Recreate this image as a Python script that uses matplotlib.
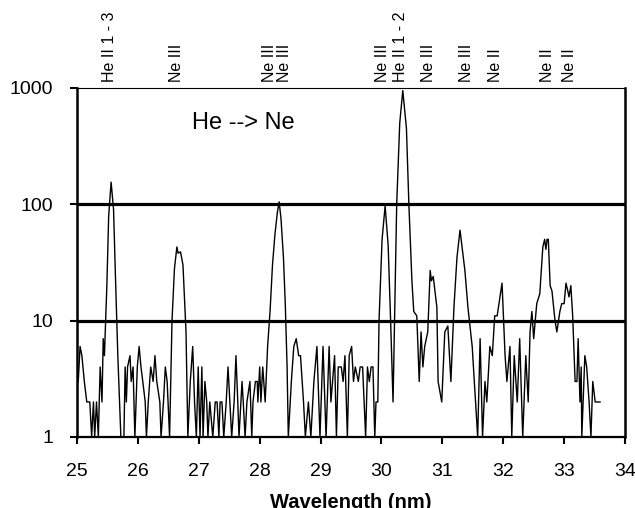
import matplotlib
matplotlib.use("Agg")
import matplotlib.pyplot as plt
import matplotlib.transforms as mtransforms
from matplotlib.ticker import NullLocator, FixedLocator, FixedFormatter

plt.rcParams['font.family'] = ['Liberation Sans', 'DejaVu Sans']

# spectrum (wavelength in nm, counts)
wavelength = [
    25.02, 25.05, 25.08, 25.12, 25.16, 25.21, 25.24, 25.27, 25.29, 25.32,
    25.35, 25.38, 25.41, 25.43, 25.45, 25.49, 25.52, 25.56, 25.60, 25.63,
    25.67, 25.72, 25.77, 25.79, 25.81, 25.83, 25.87, 25.89, 25.92, 25.95,
    25.99, 26.02, 26.05, 26.08, 26.12, 26.14, 26.17, 26.21, 26.25, 26.28,
    26.31, 26.36, 26.38, 26.42, 26.45, 26.48, 26.52, 26.56, 26.60, 26.64,
    26.66, 26.70, 26.74, 26.76, 26.79, 26.82, 26.86, 26.90, 26.93, 26.96,
    26.99, 27.02, 27.05, 27.07, 27.10, 27.13, 27.15, 27.18, 27.23, 27.27,
    27.30, 27.33, 27.35, 27.38, 27.41, 27.45, 27.48, 27.51, 27.54, 27.58,
    27.61, 27.64, 27.66, 27.71, 27.73, 27.76, 27.79, 27.84, 27.87, 27.89,
    27.93, 27.96, 27.97, 28.00, 28.02, 28.05, 28.09, 28.13, 28.17, 28.21,
    28.25, 28.29, 28.32, 28.35, 28.39, 28.42, 28.45, 28.47, 28.52, 28.56,
    28.60, 28.64, 28.67, 28.72, 28.75, 28.80, 28.84, 28.89, 28.94, 28.99,
    29.04, 29.09, 29.14, 29.17, 29.23, 29.26, 29.29, 29.34, 29.37, 29.40,
    29.44, 29.47, 29.51, 29.54, 29.57, 29.62, 29.65, 29.69, 29.74, 29.77,
    29.80, 29.83, 29.86, 29.89, 29.91, 29.94, 29.96, 30.01, 30.06, 30.11,
    30.15, 30.19, 30.22, 30.25, 30.30, 30.35, 30.41, 30.45, 30.48, 30.50,
    30.53, 30.58, 30.62, 30.65, 30.68, 30.71, 30.76, 30.80, 30.82, 30.85,
    30.91, 30.93, 30.99, 31.04, 31.09, 31.14, 31.19, 31.24, 31.29, 31.33,
    31.37, 31.42, 31.49, 31.58, 31.62, 31.66, 31.70, 31.73, 31.78, 31.82,
    31.86, 31.90, 31.98, 32.03, 32.06, 32.11, 32.14, 32.18, 32.23, 32.27,
    32.32, 32.37, 32.41, 32.44, 32.47, 32.50, 32.55, 32.60, 32.65, 32.68,
    32.70, 32.72, 32.74, 32.77, 32.80, 32.85, 32.88, 32.93, 32.96, 33.00,
    33.03, 33.06, 33.08, 33.11, 33.14, 33.18, 33.21, 33.23, 33.26, 33.28,
    33.29, 33.34, 33.37, 33.41, 33.44, 33.47, 33.51, 33.59,
]
counts = [
    3, 6, 5, 3, 2, 2, 1, 2, 1, 2,
    1, 4, 2, 7, 5, 20, 80, 155, 90, 25,
    5, 1, 1, 4, 2, 4, 5, 3, 4, 1,
    4, 6, 4, 3, 2, 1, 2, 4, 3, 5,
    3, 2, 1, 2, 4, 3, 1, 10, 28, 43,
    38, 39, 30, 18, 8, 1, 3, 6, 2, 1,
    4, 1, 4, 1, 3, 2, 1, 2, 1, 2,
    2, 1, 2, 2, 1, 2, 4, 2, 1, 2,
    5, 2, 1, 3, 2, 1, 2, 3, 1, 2,
    3, 3, 2, 4, 2, 4, 2, 6, 12, 30,
    55, 85, 105, 75, 35, 14, 4, 1, 3, 6,
    7, 5, 5, 2, 1, 2, 1, 3, 6, 1,
    6, 1, 6, 2, 5, 1, 4, 4, 3, 5,
    1, 5, 6, 3, 4, 3, 4, 4, 1, 4,
    3, 4, 4, 1, 2, 2, 10, 50, 97, 44,
    10, 2, 15, 100, 500, 950, 450, 100, 40, 22,
    12, 11, 3, 8, 4, 6, 8, 27, 22, 24,
    13, 3, 2, 8, 9, 3, 13, 35, 60, 40,
    27, 13, 6, 1, 7, 1, 3, 2, 6, 5,
    11, 11, 21, 5, 3, 6, 1, 5, 2, 7,
    1, 5, 2, 8, 12, 7, 14, 17, 43, 50,
    41, 50, 50, 20, 18, 10, 8, 12, 14, 14,
    21, 18, 16, 20, 11, 3, 3, 7, 2, 4,
    1, 5, 4, 2, 1, 3, 2, 2,
]

# line identifications along the top
line_labels = ["He II 1 - 3", "Ne III", "Ne III", "Ne III", "Ne III",
               "He II 1 - 2", "Ne III", "Ne III", "Ne II", "Ne II", "Ne II"]
line_positions = [25.53, 26.64, 28.16, 28.40, 30.01, 30.31, 30.78, 31.39,
                  31.88, 32.73, 33.08]

x_ticks = [25, 26, 27, 28, 29, 30, 31, 32, 33, 34]
y_ticks = [1, 10, 100, 1000]
y_ticklabels = ["1", "10", "100", "1000"]

fig = plt.figure(figsize=(6.35, 5.08), dpi=100)
ax = fig.add_axes([0.1213, 0.1398, 0.863, 0.687])

for level in [10, 100]:
    ax.axhline(level, color="black", linewidth=2.3, zorder=1)

ax.plot(wavelength, counts, color="black", linewidth=1.0, zorder=2)

ax.set_yscale("log")
ax.set_ylim(1, 1000)
ax.set_xlim(25, 34)
ax.yaxis.set_major_locator(FixedLocator(y_ticks))
ax.yaxis.set_major_formatter(FixedFormatter(y_ticklabels))
ax.yaxis.set_minor_locator(NullLocator())
ax.set_xticks(x_ticks)
ax.set_xticklabels([str(t) for t in x_ticks])

ax.tick_params(axis="both", direction="out", length=5, width=1.5, labelsize=14)
ax.tick_params(axis="y", pad=12)
ax.tick_params(axis="x", pad=14)

ax.spines["left"].set_linewidth(1.8)
ax.spines["right"].set_linewidth(1.8)
ax.spines["bottom"].set_linewidth(1.6)
ax.spines["top"].set_linewidth(0.8)

ax.set_xlabel("Wavelength (nm)", fontsize=14.5, fontweight="bold", labelpad=9)

ax.text(0.21, 0.9, "He --> Ne", transform=ax.transAxes, fontsize=17,
        ha="left", va="center")

trans = mtransforms.blended_transform_factory(ax.transData, ax.transAxes)
for pos, lab in zip(line_positions, line_labels):
    ax.text(pos, 1.017, lab, transform=trans, rotation=90, fontsize=11.5,
            ha="center", va="bottom")

fig.savefig("out.png", dpi=100)
